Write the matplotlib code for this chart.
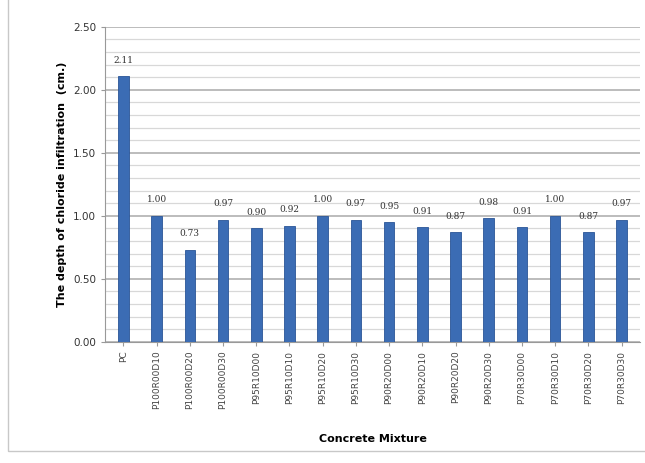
import matplotlib.pyplot as plt
from matplotlib.ticker import MultipleLocator

mixtures = ['PC', 'P100R00D10', 'P100R00D20', 'P100R00D30', 'P95R10D00',
            'P95R10D10', 'P95R10D20', 'P95R10D30', 'P90R20D00', 'P90R20D10',
            'P90R20D20', 'P90R20D30', 'P70R30D00', 'P70R30D10', 'P70R30D20',
            'P70R30D30']
depth = [2.11, 1.00, 0.73, 0.97, 0.90, 0.92, 1.00, 0.97, 0.95, 0.91,
         0.87, 0.98, 0.91, 1.00, 0.87, 0.97]

fig = plt.figure(figsize=(6.45, 4.63), dpi=100)
ax = fig.add_axes([0.163, 0.262, 0.829, 0.68])

x = range(len(mixtures))
ax.bar(x, depth, width=0.32, color='#3b6cb4', edgecolor='#2a5597', linewidth=0.6, zorder=3)
for i, v in zip(x, depth):
    ax.text(i, v + 0.09, '%.2f' % v, ha='center', va='bottom', fontsize=6.5,
            family='DejaVu Serif', color='#333333')

ax.set_ylim(0, 2.5)
ax.set_xlim(-0.55, len(mixtures) - 0.45)
ax.yaxis.set_major_locator(MultipleLocator(0.5))
ax.yaxis.set_minor_locator(MultipleLocator(0.1))
ax.set_yticklabels(['%.2f' % t for t in ax.get_yticks()])
ax.grid(axis='y', which='major', color='#b0b0b0', linewidth=1.2, zorder=0)
ax.grid(axis='y', which='minor', color='#d8d8d8', linewidth=0.9, zorder=0)
ax.tick_params(axis='y', which='major', length=3, color='#999999', labelsize=7.5, colors='#333333')
ax.tick_params(axis='y', which='minor', length=0)
ax.tick_params(axis='x', length=3, color='#999999', labelsize=6.5, colors='#444444')
ax.set_xticks(list(x))
ax.set_xticklabels(mixtures, rotation=90)
for s in ['top', 'right']:
    ax.spines[s].set_visible(False)
ax.spines['left'].set_color('#999999')
ax.spines['bottom'].set_color('#999999')

ax.set_ylabel('The depth of chloride infiltration  (cm.)', fontsize=8, fontweight='bold')
ax.set_xlabel('Concrete Mixture', fontsize=8, fontweight='bold', labelpad=18)

# outer frame of the chart area
fig.patches.append(plt.Rectangle((0.012, 0.025), 1.2, 1.2, transform=fig.transFigure,
                                 fill=False, edgecolor='#c8c8c8', linewidth=1))

fig.savefig('out.png', dpi=100)
